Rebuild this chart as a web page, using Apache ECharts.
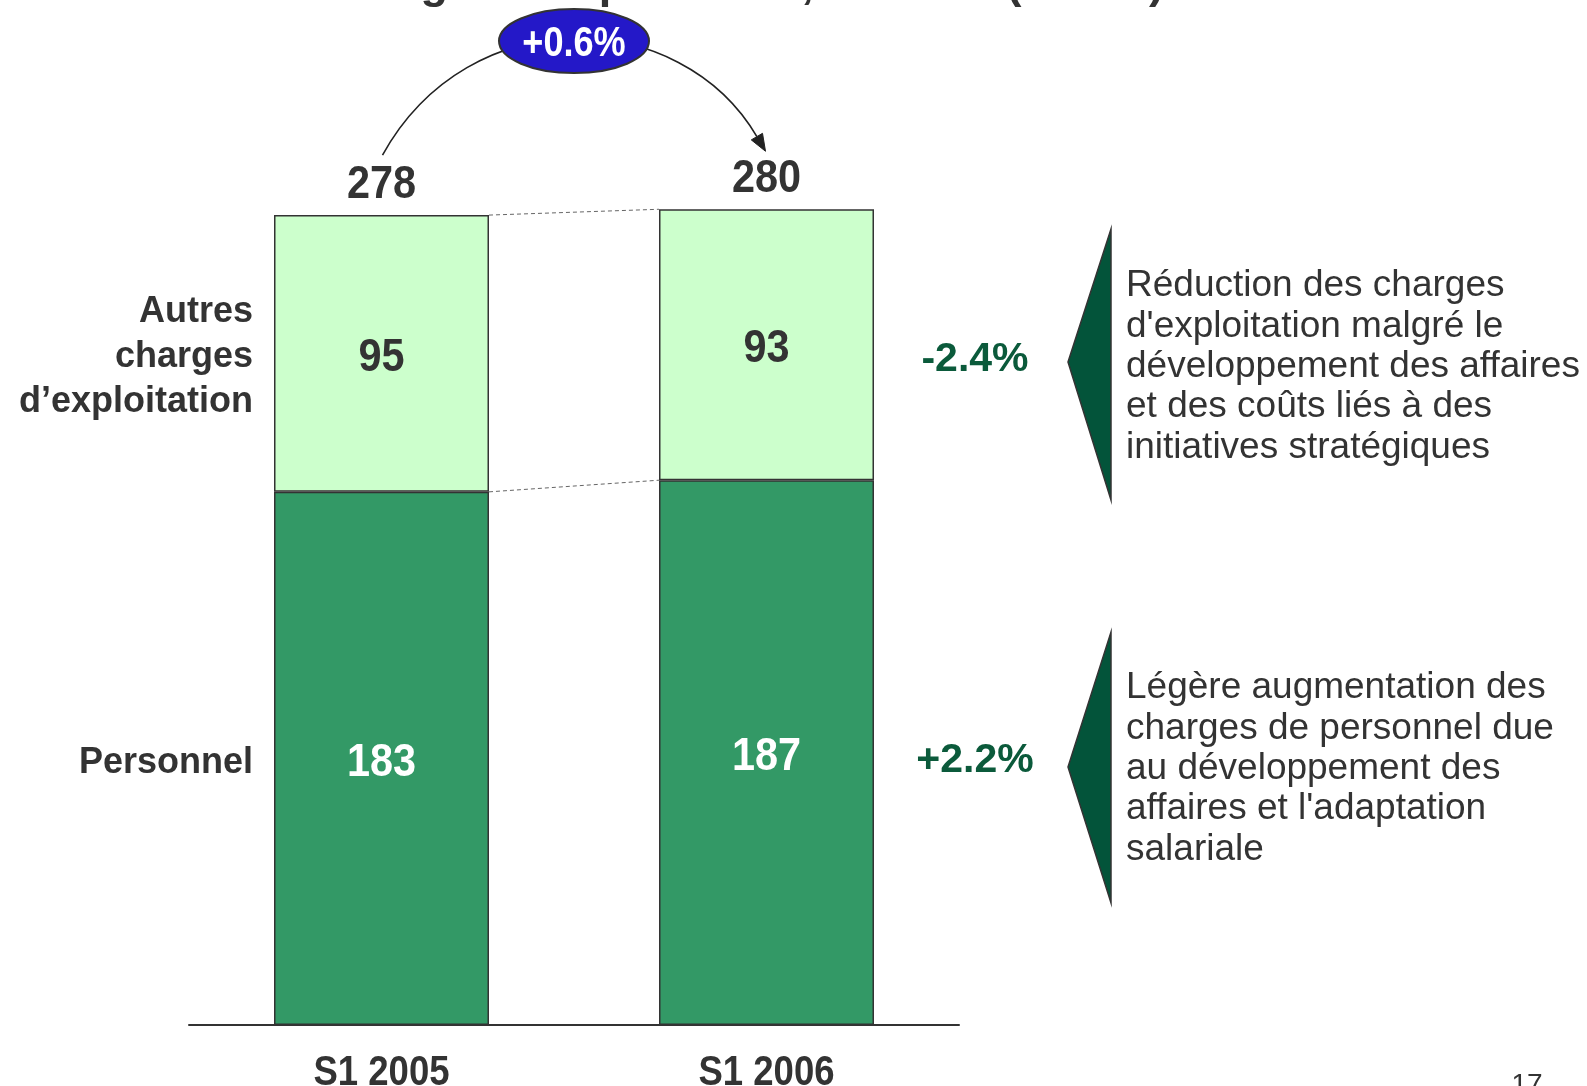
<!DOCTYPE html>
<html>
<head>
<meta charset="utf-8">
<script src="https://cdn.jsdelivr.net/npm/echarts@6/dist/echarts.min.js"></script>
<style>
html,body{margin:0;padding:0;background:#fff;}
#chart{width:1587px;height:1086px;}
</style>
</head>
<body>
<div id="chart"></div>
<script>
// ---- data ----
const categories = ['S1 2005', 'S1 2006'];
const personnel = [183, 187];
const autres = [95, 93];
const totals = [278, 280];
const totalChange = '+0.6%';
const autresChange = '-2.4%';
const personnelChange = '+2.2%';
const seriesNames = ['Personnel', 'Autres\ncharges\nd\u2019exploitation'];
const commentAutres = 'Réduction des charges\nd\'exploitation malgré le\ndéveloppement des affaires\net des coûts liés à des\ninitiatives stratégiques';
const commentPersonnel = 'Légère augmentation des\ncharges de personnel due\nau développement des\naffaires et l\'adaptation\nsalariale';
const titleText = 'Charges d\'exploitation, S1 2006 (en M€)';
const pageNumber = '17';

const SANS = "'Liberation Sans', Arial, sans-serif";
const DARK = '#333333';
const ANN_GREEN = '#0B5A3B';
const BAR_W = 215;

const chart = echarts.init(document.getElementById('chart'));

function narrow(x, y, text, color, size, sx) {
  return { type: 'text', x: x, y: y, scaleX: sx, scaleY: 1,
    style: { text: text, fill: color, font: 'bold ' + size + 'px ' + SANS, align: 'center', verticalAlign: 'middle' } };
}

function renderOverlay(params, api) {
  if (params.dataIndex !== 0) return null;
  const half = BAR_W / 2;
  const children = [];
  const t0 = api.coord([0, totals[0]]);
  const t1 = api.coord([1, totals[1]]);
  const p0 = api.coord([0, personnel[0]]);
  const p1 = api.coord([1, personnel[1]]);
  const dash = { stroke: '#666', lineWidth: 1, lineDash: [4, 3] };
  children.push({ type: 'line', shape: { x1: t0[0] + half, y1: t0[1], x2: t1[0] - half, y2: t1[1] }, style: dash });
  children.push({ type: 'line', shape: { x1: p0[0] + half, y1: p0[1], x2: p1[0] - half, y2: p1[1] }, style: dash });

  // value labels, totals, category labels
  for (let i = 0; i < categories.length; i++) {
    const cp = api.coord([i, personnel[i] / 2]);
    const ca = api.coord([i, personnel[i] + autres[i] / 2]);
    const ct = api.coord([i, totals[i]]);
    const c0 = api.coord([i, 0]);
    children.push(narrow(cp[0], cp[1] + 5, String(personnel[i]), '#ffffff', 46, 0.9));
    children.push(narrow(ca[0], ca[1] + 5, String(autres[i]), DARK, 46, 0.9));
    children.push(narrow(ct[0], ct[1] - 30, String(totals[i]), DARK, 46, 0.9));
    children.push(narrow(c0[0], c0[1] + 48, categories[i], DARK, 43, 0.85));
  }

  // change arrow
  const sx = t0[0] + 1, sy = t0[1] - 60;
  const ex = t1[0] - 1, ey = t1[1] - 58;
  const c1x = sx + 87, c1y = sy - 157;
  const c2x = ex - 85, c2y = ey - 145;
  let dx = ex - c2x, dy = ey - c2y;
  const len = Math.sqrt(dx * dx + dy * dy); dx /= len; dy /= len;
  const ah = 17, aw = 6.5;
  const bx = ex - dx * ah, by = ey - dy * ah;
  const mx = (sx + ex) / 2, my = sy - 114;
  children.push({ type: 'bezierCurve', shape: { x1: sx, y1: sy, cpx1: c1x, cpy1: c1y, cpx2: c2x, cpy2: c2y, x2: bx, y2: by },
    style: { stroke: '#222', lineWidth: 1.6, fill: null } });
  children.push({ type: 'polygon', shape: { points: [[ex, ey], [bx - dy * aw, by + dx * aw], [bx + dy * aw, by - dx * aw]] },
    style: { fill: '#222', stroke: '#222', lineWidth: 1 } });
  children.push({ type: 'ellipse', shape: { cx: mx, cy: my, rx: 75, ry: 32 },
    style: { fill: '#2418C8', stroke: '#333', lineWidth: 2 } });
  children.push(narrow(mx, my + 3, totalChange, '#ffffff', 42, 0.86));
  return { type: 'group', children: children };
}

const option = {
  backgroundColor: '#ffffff',
  animation: false,
  grid: { left: 189, right: 628, top: 151, bottom: 61, containLabel: false, outerBoundsMode: 'none' },
  xAxis: {
    type: 'category',
    data: categories,
    axisLine: { lineStyle: { color: DARK, width: 2 } },
    axisTick: { show: false },
    axisLabel: { show: false }
  },
  yAxis: { type: 'value', min: 0, max: 300, show: false },
  series: [
    {
      name: 'Personnel', type: 'bar', stack: 'total', data: personnel, barWidth: BAR_W,
      itemStyle: { color: '#339966', borderColor: DARK, borderWidth: 1.5 },
      label: { show: false }
    },
    {
      name: 'Autres charges d\u2019exploitation', type: 'bar', stack: 'total', data: autres, barWidth: BAR_W,
      itemStyle: { color: '#CCFFCC', borderColor: DARK, borderWidth: 1.5 },
      label: { show: false }
    },
    {
      type: 'custom', data: [[0, 0]], renderItem: renderOverlay, silent: true, z: 5
    }
  ],
  graphic: [
    { type: 'text', left: 318, top: -37, style: { text: titleText, fill: DARK, font: 'bold 45px ' + SANS } },
    { type: 'text', x: 253, y: 357, style: { text: seriesNames[1], fill: DARK, font: 'bold 36px ' + SANS, align: 'right', verticalAlign: 'middle', lineHeight: 45 } },
    { type: 'text', x: 253, y: 763, style: { text: seriesNames[0], fill: DARK, font: 'bold 36px ' + SANS, align: 'right', verticalAlign: 'middle' } },
    { type: 'text', x: 975, y: 360, style: { text: autresChange, fill: ANN_GREEN, font: 'bold 41px ' + SANS, align: 'center', verticalAlign: 'middle' } },
    { type: 'text', x: 975, y: 761, style: { text: personnelChange, fill: ANN_GREEN, font: 'bold 41px ' + SANS, align: 'center', verticalAlign: 'middle' } },
    { type: 'polygon', shape: { points: [[1111, 229], [1111, 500], [1068, 362]] }, style: { fill: '#03543A', stroke: '#333', lineWidth: 1.5 } },
    { type: 'polygon', shape: { points: [[1111, 632], [1111, 903], [1068, 767]] }, style: { fill: '#03543A', stroke: '#333', lineWidth: 1.5 } },
    { type: 'text', x: 1126, y: 266, style: { text: commentAutres, fill: DARK, font: '37px ' + SANS, align: 'left', verticalAlign: 'top', lineHeight: 40.3 } },
    { type: 'text', x: 1126, y: 668, style: { text: commentPersonnel, fill: DARK, font: '37px ' + SANS, align: 'left', verticalAlign: 'top', lineHeight: 40.3 } },
    { type: 'text', x: 1527, y: 1071, style: { text: pageNumber, fill: DARK, font: '28px ' + SANS, align: 'center', verticalAlign: 'top' } }
  ]
};
chart.setOption(option);
</script>
</body>
</html>
